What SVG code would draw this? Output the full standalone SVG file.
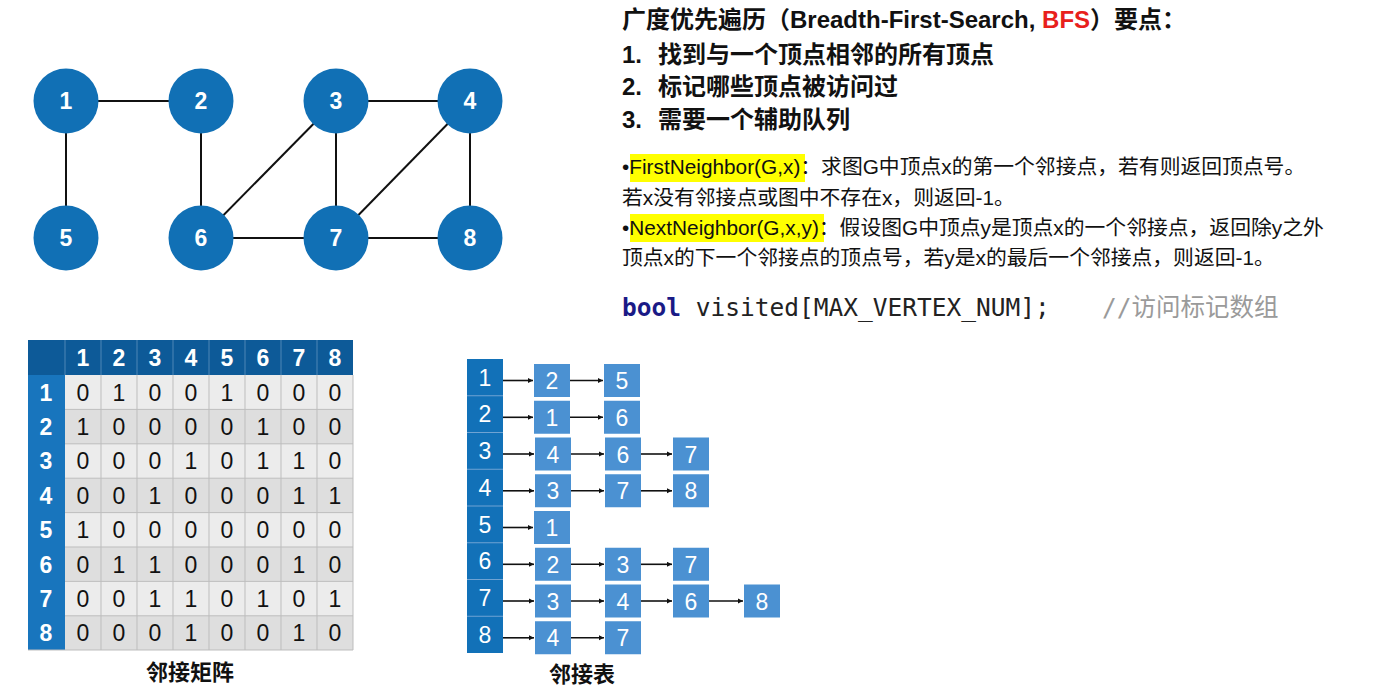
<svg xmlns="http://www.w3.org/2000/svg" width="1388" height="693" viewBox="0 0 1388 693">
<style>
.t{font-family:"Liberation Sans","Noto Sans CJK SC",sans-serif;}
.hd{font-size:24px;font-weight:bold;fill:#111;}
.it{font-size:24px;font-weight:bold;fill:#111;}
.bl{font-size:20.8px;fill:#111;}
.gn circle{fill:#1170b5;}
.gn text{font-family:"Liberation Sans",sans-serif;font-size:23px;font-weight:bold;fill:#fff;text-anchor:middle;}
.edge{stroke:#111;stroke-width:2;fill:none;}
.mh{fill:#0d5a98;}
.ml{fill:#1875bd;}
.mc1{fill:#ececec;}
.mc2{fill:#dedede;}
.mht{font-family:"Liberation Sans",sans-serif;font-size:23px;font-weight:bold;fill:#fff;text-anchor:middle;}
.mct{font-family:"Liberation Sans",sans-serif;font-size:23px;fill:#111;text-anchor:middle;}
.lc{fill:#1271b8;}
.lb{fill:#4b91d2;}
.lt{font-family:"Liberation Sans",sans-serif;font-size:23px;fill:#fff;text-anchor:middle;}
.ar{stroke:#111;stroke-width:1.6;fill:none;marker-end:url(#ah);}
.cap{font-family:"Liberation Sans","Noto Sans CJK SC",sans-serif;font-size:22px;font-weight:bold;fill:#111;text-anchor:middle;}
.code{font-family:"DejaVu Sans Mono","Liberation Mono","Noto Sans CJK SC",monospace;font-size:24.5px;}
</style>
<defs>
<marker id="ah" viewBox="0 0 10 10" refX="10" refY="5" markerWidth="5.5" markerHeight="5.5" orient="auto" markerUnits="userSpaceOnUse">
<path d="M0,0 L10,5 L0,10 z" fill="#111"/>
</marker>
</defs>
<rect x="0" y="0" width="1388" height="693" fill="#fff"/>

<!-- Graph connectors -->
<g id="connectors">
<line class="edge" x1="66" y1="101" x2="201" y2="101"/>
<line class="edge" x1="66" y1="101" x2="66" y2="238"/>
<line class="edge" x1="201" y1="101" x2="201" y2="238"/>
<line class="edge" x1="336" y1="101" x2="470" y2="101"/>
<line class="edge" x1="336" y1="101" x2="201" y2="238"/>
<line class="edge" x1="336" y1="101" x2="336" y2="238"/>
<line class="edge" x1="470" y1="101" x2="336" y2="238"/>
<line class="edge" x1="470" y1="101" x2="470" y2="238"/>
<line class="edge" x1="201" y1="238" x2="336" y2="238"/>
<line class="edge" x1="336" y1="238" x2="470" y2="238"/>
</g>

<g id="node1" class="gn"><circle cx="66" cy="101" r="32.5"/><text x="66" y="109">1</text></g>
<g id="node2" class="gn"><circle cx="201" cy="101" r="32.5"/><text x="201" y="109">2</text></g>
<g id="node3" class="gn"><circle cx="336" cy="101" r="32.5"/><text x="336" y="109">3</text></g>
<g id="node4" class="gn"><circle cx="470" cy="101" r="32.5"/><text x="470" y="109">4</text></g>
<g id="node5" class="gn"><circle cx="66" cy="238" r="32.5"/><text x="66" y="246">5</text></g>
<g id="node6" class="gn"><circle cx="201" cy="238" r="32.5"/><text x="201" y="246">6</text></g>
<g id="node7" class="gn"><circle cx="336" cy="238" r="32.5"/><text x="336" y="246">7</text></g>
<g id="node8" class="gn"><circle cx="470" cy="238" r="32.5"/><text x="470" y="246">8</text></g>

<!-- Title and points -->
<g id="points" class="t">
<text class="hd" x="622" y="28">广度优先遍历（Breadth-First-Search, <tspan fill="#e8201c">BFS</tspan>）要点：</text>
<text class="it" x="622" y="63">1.<tspan x="658">找到与一个顶点相邻的所有顶点</tspan></text>
<text class="it" x="622" y="95">2.<tspan x="658">标记哪些顶点被访问过</tspan></text>
<text class="it" x="622" y="128">3.<tspan x="658">需要一个辅助队列</tspan></text>
</g>

<g id="functions" class="t">
<rect x="630" y="154" width="175" height="28" fill="#ffff00"/>
<rect x="630" y="214" width="194" height="28" fill="#ffff00"/>
<text class="bl" x="622" y="174">•FirstNeighbor(G,x)：求图G中顶点x的第一个邻接点，若有则返回顶点号。</text>
<text class="bl" x="622" y="205">若x没有邻接点或图中不存在x，则返回-1。</text>
<text class="bl" x="622" y="235">•NextNeighbor(G,x,y)：假设图G中顶点y是顶点x的一个邻接点，返回除y之外</text>
<text class="bl" x="622" y="265">顶点x的下一个邻接点的顶点号，若y是x的最后一个邻接点，则返回-1。</text>
</g>

<g id="code">
<text class="code" x="622" y="316"><tspan font-weight="bold" fill="#1a1a86">bool</tspan><tspan fill="#222"> visited[MAX_VERTEX_NUM];</tspan><tspan x="1102" fill="#9a9a9a">//访问标记数组</tspan></text>
</g>

<!-- Adjacency matrix -->
<g id="matrix">
<rect class="mh" x="28" y="340" width="325" height="35"/>
<rect class="ml" x="28" y="375" width="37" height="275"/>
<rect class="mc1" x="65" y="375" width="288" height="34.4"/>
<rect class="mc2" x="65" y="409.4" width="288" height="34.4"/>
<rect class="mc1" x="65" y="443.8" width="288" height="34.4"/>
<rect class="mc2" x="65" y="478.2" width="288" height="34.4"/>
<rect class="mc1" x="65" y="512.6" width="288" height="34.4"/>
<rect class="mc2" x="65" y="547" width="288" height="34.4"/>
<rect class="mc1" x="65" y="581.4" width="288" height="34.4"/>
<rect class="mc2" x="65" y="615.8" width="288" height="34.2"/>
<g stroke="#bdbdbd" stroke-width="1">
<line x1="101" y1="375" x2="101" y2="650"/><line x1="137" y1="375" x2="137" y2="650"/><line x1="173" y1="375" x2="173" y2="650"/><line x1="209" y1="375" x2="209" y2="650"/><line x1="245" y1="375" x2="245" y2="650"/><line x1="281" y1="375" x2="281" y2="650"/><line x1="317" y1="375" x2="317" y2="650"/><line x1="353" y1="375" x2="353" y2="650"/>
<line x1="65" y1="409.4" x2="353" y2="409.4"/><line x1="65" y1="443.8" x2="353" y2="443.8"/><line x1="65" y1="478.2" x2="353" y2="478.2"/><line x1="65" y1="512.6" x2="353" y2="512.6"/><line x1="65" y1="547" x2="353" y2="547"/><line x1="65" y1="581.4" x2="353" y2="581.4"/><line x1="65" y1="615.8" x2="353" y2="615.8"/><line x1="28" y1="650" x2="353" y2="650"/>
</g>
<g stroke="#4f86b6" stroke-width="1">
<line x1="65" y1="340" x2="65" y2="375"/><line x1="101" y1="340" x2="101" y2="375"/><line x1="137" y1="340" x2="137" y2="375"/><line x1="173" y1="340" x2="173" y2="375"/><line x1="209" y1="340" x2="209" y2="375"/><line x1="245" y1="340" x2="245" y2="375"/><line x1="281" y1="340" x2="281" y2="375"/><line x1="317" y1="340" x2="317" y2="375"/>
</g>
<g class="mht">
<text x="83" y="366">1</text><text x="119" y="366">2</text><text x="155" y="366">3</text><text x="191" y="366">4</text><text x="227" y="366">5</text><text x="263" y="366">6</text><text x="299" y="366">7</text><text x="335" y="366">8</text>
<text x="46" y="400.5">1</text><text x="46" y="434.9">2</text><text x="46" y="469.3">3</text><text x="46" y="503.7">4</text><text x="46" y="538.1">5</text><text x="46" y="572.5">6</text><text x="46" y="606.9">7</text><text x="46" y="641.3">8</text>
</g>
<g class="mct">
<text y="400.5"><tspan x="83">0</tspan><tspan x="119">1</tspan><tspan x="155">0</tspan><tspan x="191">0</tspan><tspan x="227">1</tspan><tspan x="263">0</tspan><tspan x="299">0</tspan><tspan x="335">0</tspan></text>
<text y="434.9"><tspan x="83">1</tspan><tspan x="119">0</tspan><tspan x="155">0</tspan><tspan x="191">0</tspan><tspan x="227">0</tspan><tspan x="263">1</tspan><tspan x="299">0</tspan><tspan x="335">0</tspan></text>
<text y="469.3"><tspan x="83">0</tspan><tspan x="119">0</tspan><tspan x="155">0</tspan><tspan x="191">1</tspan><tspan x="227">0</tspan><tspan x="263">1</tspan><tspan x="299">1</tspan><tspan x="335">0</tspan></text>
<text y="503.7"><tspan x="83">0</tspan><tspan x="119">0</tspan><tspan x="155">1</tspan><tspan x="191">0</tspan><tspan x="227">0</tspan><tspan x="263">0</tspan><tspan x="299">1</tspan><tspan x="335">1</tspan></text>
<text y="538.1"><tspan x="83">1</tspan><tspan x="119">0</tspan><tspan x="155">0</tspan><tspan x="191">0</tspan><tspan x="227">0</tspan><tspan x="263">0</tspan><tspan x="299">0</tspan><tspan x="335">0</tspan></text>
<text y="572.5"><tspan x="83">0</tspan><tspan x="119">1</tspan><tspan x="155">1</tspan><tspan x="191">0</tspan><tspan x="227">0</tspan><tspan x="263">0</tspan><tspan x="299">1</tspan><tspan x="335">0</tspan></text>
<text y="606.9"><tspan x="83">0</tspan><tspan x="119">0</tspan><tspan x="155">1</tspan><tspan x="191">1</tspan><tspan x="227">0</tspan><tspan x="263">1</tspan><tspan x="299">0</tspan><tspan x="335">1</tspan></text>
<text y="641.3"><tspan x="83">0</tspan><tspan x="119">0</tspan><tspan x="155">0</tspan><tspan x="191">1</tspan><tspan x="227">0</tspan><tspan x="263">0</tspan><tspan x="299">1</tspan><tspan x="335">0</tspan></text>
</g>
<text class="cap" x="190" y="680">邻接矩阵</text>
</g>

<!-- Adjacency list -->
<g id="adjlist">
<rect class="lc" x="467" y="359" width="36" height="294"/>
<g stroke="#6fa3d3" stroke-width="1">
<line x1="467" y1="395.75" x2="503" y2="395.75"/><line x1="467" y1="432.5" x2="503" y2="432.5"/><line x1="467" y1="469.25" x2="503" y2="469.25"/><line x1="467" y1="506" x2="503" y2="506"/><line x1="467" y1="542.75" x2="503" y2="542.75"/><line x1="467" y1="579.5" x2="503" y2="579.5"/><line x1="467" y1="616.25" x2="503" y2="616.25"/>
</g>
<g class="lt">
<text x="485" y="385.5">1</text><text x="485" y="422.3">2</text><text x="485" y="459">3</text><text x="485" y="495.8">4</text><text x="485" y="532.5">5</text><text x="485" y="569.3">6</text><text x="485" y="606">7</text><text x="485" y="642.8">8</text>
</g>
<g id="list-boxes">
<rect class="lb" x="534" y="364" width="36" height="33"/><rect class="lb" x="604" y="364" width="36" height="33"/>
<rect class="lb" x="534" y="400.75" width="36" height="33"/><rect class="lb" x="604" y="400.75" width="36" height="33"/>
<rect class="lb" x="535" y="437.5" width="36" height="33"/><rect class="lb" x="605" y="437.5" width="36" height="33"/><rect class="lb" x="673" y="437.5" width="36" height="33"/>
<rect class="lb" x="535" y="474.25" width="36" height="33"/><rect class="lb" x="605" y="474.25" width="36" height="33"/><rect class="lb" x="673" y="474.25" width="36" height="33"/>
<rect class="lb" x="534" y="511" width="36" height="33"/>
<rect class="lb" x="535" y="547.75" width="36" height="33"/><rect class="lb" x="605" y="547.75" width="36" height="33"/><rect class="lb" x="673" y="547.75" width="36" height="33"/>
<rect class="lb" x="535" y="584.5" width="36" height="33"/><rect class="lb" x="605" y="584.5" width="36" height="33"/><rect class="lb" x="673" y="584.5" width="36" height="33"/><rect class="lb" x="744" y="584.5" width="36" height="33"/>
<rect class="lb" x="535" y="621.25" width="36" height="33"/><rect class="lb" x="605" y="621.25" width="36" height="33"/>
</g>
<g class="lt">
<text x="552" y="389">2</text><text x="622" y="389">5</text>
<text x="552" y="425.8">1</text><text x="622" y="425.8">6</text>
<text x="553" y="462.5">4</text><text x="623" y="462.5">6</text><text x="691" y="462.5">7</text>
<text x="553" y="499.3">3</text><text x="623" y="499.3">7</text><text x="691" y="499.3">8</text>
<text x="552" y="536">1</text>
<text x="553" y="572.8">2</text><text x="623" y="572.8">3</text><text x="691" y="572.8">7</text>
<text x="553" y="609.5">3</text><text x="623" y="609.5">4</text><text x="691" y="609.5">6</text><text x="762" y="609.5">8</text>
<text x="553" y="646.3">4</text><text x="623" y="646.3">7</text>
</g>
<g id="list-arrows">
<line class="ar" x1="503" y1="380.5" x2="533" y2="380.5"/><line class="ar" x1="570" y1="380.5" x2="603" y2="380.5"/>
<line class="ar" x1="503" y1="417.3" x2="533" y2="417.3"/><line class="ar" x1="570" y1="417.3" x2="603" y2="417.3"/>
<line class="ar" x1="503" y1="454" x2="534" y2="454"/><line class="ar" x1="571" y1="454" x2="604" y2="454"/><line class="ar" x1="641" y1="454" x2="672" y2="454"/>
<line class="ar" x1="503" y1="490.8" x2="534" y2="490.8"/><line class="ar" x1="571" y1="490.8" x2="604" y2="490.8"/><line class="ar" x1="641" y1="490.8" x2="672" y2="490.8"/>
<line class="ar" x1="503" y1="527.5" x2="533" y2="527.5"/>
<line class="ar" x1="503" y1="564.3" x2="534" y2="564.3"/><line class="ar" x1="571" y1="564.3" x2="604" y2="564.3"/><line class="ar" x1="641" y1="564.3" x2="672" y2="564.3"/>
<line class="ar" x1="503" y1="601" x2="534" y2="601"/><line class="ar" x1="571" y1="601" x2="604" y2="601"/><line class="ar" x1="641" y1="601" x2="672" y2="601"/><line class="ar" x1="709" y1="601" x2="743" y2="601"/>
<line class="ar" x1="503" y1="637.8" x2="534" y2="637.8"/><line class="ar" x1="571" y1="637.8" x2="604" y2="637.8"/>
</g>
<text class="cap" x="582" y="682">邻接表</text>
</g>
</svg>
